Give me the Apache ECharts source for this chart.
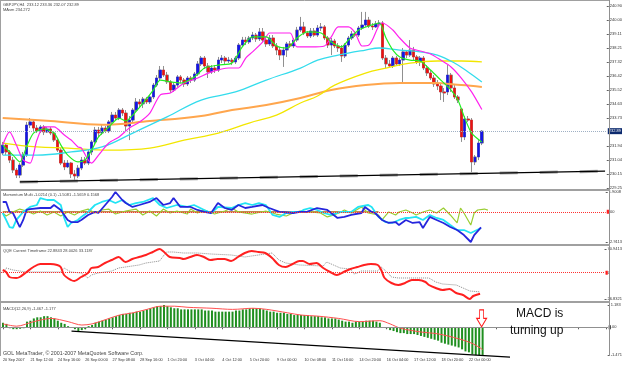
<!DOCTYPE html>
<html><head><meta charset="utf-8">
<script src="https://cdn.jsdelivr.net/npm/echarts@6/dist/echarts.min.js"></script>
<style>html,body{margin:0;padding:0;background:#fff}#c{width:625px;height:365px}</style>
</head><body><div id="c"></div>
<script>
// ---------- DATA ----------
const timeLabels = ["20 Sep 2007","21 Sep 12:00","24 Sep 16:00","26 Sep 00:00","27 Sep 08:00","28 Sep 16:00","1 Oct 20:00","3 Oct 04:00","4 Oct 12:00","5 Oct 20:00","9 Oct 00:00","10 Oct 08:00","11 Oct 16:00","14 Oct 20:00","16 Oct 04:00","17 Oct 12:00","18 Oct 20:00","22 Oct 00:00"];
const slotCount = 177; // visible bar slots incl. right margin

const opens = [231.49,232.00,231.56,231.04,230.40,230.08,230.72,231.36,233.28,233.48,
233.09,232.90,233.16,232.84,233.03,232.77,232.32,231.68,230.85,230.60,
230.85,230.15,230.02,230.53,231.04,230.85,231.56,232.20,232.96,232.77,
233.09,232.90,233.48,233.92,233.73,234.24,234.05,233.22,233.60,234.24,
234.76,234.63,234.95,234.76,235.08,235.84,236.29,236.80,236.48,236.04,
235.52,235.84,236.36,236.16,235.91,236.29,236.16,236.55,237.19,237.57,
237.06,236.68,236.93,236.80,237.44,237.57,237.38,237.44,237.32,237.57,
238.40,238.72,238.60,238.85,239.04,238.79,239.24,238.72,238.47,238.85,
238.34,238.08,237.76,238.08,238.47,238.34,238.72,239.36,239.56,239.17,
238.98,239.30,239.04,239.49,239.56,238.85,238.40,238.66,238.34,238.21,
237.70,238.40,238.85,239.11,239.04,239.49,239.68,240.00,239.62,239.56,
239.75,239.81,237.57,237.19,237.06,237.57,237.19,237.44,237.96,237.76,
238.08,237.64,237.32,237.57,236.93,236.61,236.29,235.91,235.78,235.40,
235.40,236.48,235.65,235.08,234.31,232.52,233.67,233.60,230.92,231.24,
232.13];
const closes = [232.00,231.56,231.04,230.40,230.08,230.72,231.36,233.28,233.48,233.09,
232.90,233.16,232.84,233.03,232.77,232.32,231.68,230.85,230.60,230.85,
230.15,230.02,230.53,231.04,230.85,231.56,232.20,232.96,232.77,233.09,
232.90,233.48,233.92,233.73,234.24,234.05,233.22,233.60,234.24,234.76,
234.63,234.95,234.76,235.08,235.84,236.29,236.80,236.48,236.04,235.52,
235.84,236.36,236.16,235.91,236.29,236.16,236.55,237.19,237.57,237.06,
236.68,236.93,236.80,237.44,237.57,237.38,237.44,237.32,237.57,238.40,
238.72,238.60,238.85,239.04,238.79,239.24,238.72,238.47,238.85,238.34,
238.08,237.76,238.08,238.47,238.34,238.72,239.36,239.56,239.17,238.98,
239.30,239.04,239.49,239.56,238.85,238.40,238.66,238.34,238.21,237.70,
238.40,238.85,239.11,239.04,239.49,239.68,240.00,239.62,239.56,239.75,
239.81,237.57,237.19,237.06,237.57,237.19,237.44,237.96,237.76,238.08,
237.64,237.32,237.57,236.93,236.61,236.29,235.91,235.78,235.40,235.33,
236.48,235.65,235.08,234.88,232.52,233.67,233.60,230.92,231.24,232.13,
232.89];
const highs = [232.20,232.13,231.68,231.24,230.53,230.85,231.56,233.48,233.73,233.60,
233.28,233.28,233.28,233.16,233.16,232.90,232.45,231.81,231.04,231.04,
230.92,230.40,230.72,231.24,231.24,231.68,232.32,233.16,233.16,233.28,
233.22,233.60,234.12,234.12,234.37,234.37,234.24,233.86,234.37,235.01,
234.95,235.08,235.08,235.20,235.97,236.48,237.06,237.06,236.68,236.16,
235.97,236.48,236.48,236.29,236.42,236.42,236.68,237.38,237.70,237.70,
237.25,237.12,237.12,237.64,237.76,237.70,237.64,237.57,237.70,238.53,
238.92,238.92,238.98,239.24,239.17,239.49,239.49,238.92,239.04,239.04,
238.53,238.28,238.28,238.60,238.66,238.85,239.56,240.20,239.88,239.30,
239.49,239.49,239.68,239.81,239.68,238.98,238.85,238.79,238.53,238.40,
238.53,238.98,239.30,239.30,239.62,240.52,240.52,240.20,239.81,239.94,
240.00,239.94,237.76,237.44,237.70,237.70,237.57,238.21,238.08,238.72,
238.28,237.76,237.70,237.70,237.12,236.80,236.48,236.16,235.97,235.65,
237.12,236.61,235.84,235.20,234.37,233.86,233.86,233.73,231.36,232.32,
232.96];
const lows = [231.36,231.36,230.85,230.21,229.89,229.89,230.60,231.24,233.09,232.90,
232.77,232.77,232.64,232.77,232.64,232.20,231.56,230.72,230.40,230.53,
229.89,229.70,229.89,230.40,230.72,230.72,231.36,232.00,232.52,232.64,
232.77,232.77,233.28,233.60,233.60,233.86,232.84,232.32,233.48,234.12,
234.37,234.37,234.63,234.63,234.95,235.72,236.16,236.36,235.91,235.33,
235.40,235.72,235.97,235.72,235.78,235.97,236.04,236.42,237.06,236.87,
236.29,236.55,236.61,236.68,237.25,237.19,237.25,237.12,237.19,237.44,
238.28,238.40,238.47,238.72,238.60,238.66,238.60,238.28,238.34,238.21,
237.76,237.44,237.00,237.64,238.21,238.21,238.60,239.24,239.04,238.85,
238.85,238.92,238.92,239.30,238.72,238.21,237.76,238.21,237.96,237.32,
237.57,238.28,238.72,238.92,238.92,239.36,239.56,239.49,239.36,239.49,
239.62,237.44,236.93,237.00,236.93,237.06,237.06,235.97,237.57,237.64,
237.44,237.19,237.06,236.80,236.42,236.16,235.72,235.52,234.88,234.76,
235.20,235.40,234.95,234.69,232.20,232.32,233.48,230.21,230.72,231.04,
232.00];

// moving averages: [bar index, price]
const maGreen = [[0,232.00],[3,231.36],[5,230.92],[7,231.90],[9,232.77],[12,233.03],[15,232.77],[17,232.00],[19,231.36],[22,230.92],[24,231.04],[26,231.68],[28,232.52],[31,233.16],[34,233.73],[36,233.54],[38,233.92],[41,234.69],[44,235.52],[46,236.16],[49,236.04],[52,235.97],[56,236.36],[59,236.93],[63,237.12],[67,237.25],[70,238.28],[73,238.92],[77,238.92],[80,238.34],[83,238.21],[86,238.85],[89,239.24],[93,239.17],[96,238.60],[99,238.28],[101,238.72],[104,239.36],[107,239.62],[110,239.81],[112,238.85],[114,238.08],[116,237.64],[119,237.44],[122,237.38],[125,236.80],[128,236.16],[131,235.52],[133,234.88],[135,233.73],[137,232.77],[140,232.20]];
const maMagenta = [[0,232.00],[2,232.84],[4,232.00],[6,231.04],[8,230.85],[10,232.32],[12,233.16],[15,233.16],[18,232.64],[20,232.32],[22,231.88],[23,231.81],[25,231.04],[26,230.85],[28,231.36],[31,232.13],[34,232.52],[37,233.09],[40,233.48],[43,234.05],[46,235.20],[49,235.33],[51,235.65],[53,235.97],[57,236.29],[61,236.68],[66,236.93],[69,236.93],[71,237.57],[73,237.96],[76,238.60],[78,239.17],[81,239.17],[84,239.17],[86,238.28],[90,238.28],[94,238.34],[96,238.92],[98,239.56],[101,239.56],[103,239.17],[105,238.34],[107,238.40],[108,238.72],[110,239.68],[111,239.81],[114,239.36],[116,238.85],[119,238.21],[122,238.02],[125,237.83],[128,237.44],[131,237.00],[134,236.29],[137,235.40],[140,234.272]];
const maCyan = [[0,231.36],[10,231.36],[20,231.56],[29,231.88],[38,232.77],[48,233.80],[58,234.88],[68,235.40],[77,236.16],[87,236.93],[92,237.44],[98,237.76],[106,238.08],[110,238.21],[116,238.08],[122,237.96],[127,237.76],[132,237.25],[136,236.68],[140,236.04]];
const maYellow = [[0,232.13],[10,231.88],[19,231.81],[31,231.68],[43,231.81],[53,232.32],[63,232.77],[72,233.41],[80,233.92],[87,234.69],[92,235.14],[97,235.84],[106,236.61],[112,236.93],[119,237.25],[127,237.38],[134,237.38],[140,237.32]];
const maOrange = [[0,233.73],[14,233.54],[29,233.30],[43,233.54],[58,233.86],[67,234.24],[77,234.56],[87,235.01],[96,235.52],[106,235.84],[116,235.97],[126,235.97],[134,235.84],[140,235.72]];
const priceTrend = [[5,229.64],[176,230.33]];
const mainTicks = [240.90,240.00,239.11,238.21,237.32,236.42,235.52,234.63,233.73,231.94,231.04,230.15,229.25];

// Momentum Multi
const momBlue = [[0,0.94],[1,0.94],[2,-0.02],[3,-0.12],[5,-1.47],[6,-0.79],[7,0.17],[8,0.26],[11,0.36],[14,0.36],[15,0.65],[17,0.17],[19,-0.79],[20,-0.99],[22,-0.99],[23,-0.79],[25,-0.31],[27,-0.02],[28,-0.12],[30,0.65],[32,1.42],[33,1.9008],[35,1.13],[36,0.84],[38,0.46],[40,0.65],[43,0.94],[45,1.32],[47,0.65],[49,0.84],[50,1.32],[52,0.46],[55,0.46],[57,0.17],[59,-0.02],[61,-0.12],[63,0.84],[65,0.36],[67,0.17],[69,0.65],[71,0.36],[73,0.46],[76,0.65],[78,0.36],[81,-0.02],[85,-0.12],[87,-0.02],[89,-0.02],[92,0.36],[95,0.17],[98,-0.60],[100,-0.50],[102,-0.31],[105,-0.12],[106,0.46],[108,-0.02],[109,-0.12],[111,-0.79],[113,-1.08],[115,-0.99],[116,-1.28],[118,-0.79],[120,-1.08],[122,-0.99],[123,-1.56],[125,-0.50],[127,-0.79],[129,-1.08],[131,-1.47],[133,-1.76],[135,-2.24],[137,-2.9113],[138,-2.24],[140,-1.5081]];
const momCyan = [[0,-0.12],[1,-0.79],[2,-1.47],[3,-1.56],[4,-0.79],[6,-0.02],[8,0.46],[10,0.65],[11,1.32],[13,1.13],[15,1.13],[17,0.65],[18,-0.60],[19,-1.47],[20,-1.08],[22,-0.79],[23,-0.50],[25,-0.02],[27,0.65],[29,0.94],[31,1.13],[33,0.84],[35,1.13],[37,0.65],[39,0.84],[41,0.94],[44,1.32],[46,0.65],[48,0.36],[51,0.65],[54,0.46],[56,0.65],[59,0.17],[61,-0.12],[63,0.46],[67,0.36],[69,0.65],[71,0.84],[73,0.65],[75,0.84],[77,0.65],[79,-0.31],[81,-0.50],[83,-0.12],[85,-0.02],[87,-0.02],[88,0.17],[90,0.36],[92,0.17],[94,-0.12],[96,-0.31],[99,-0.02],[102,-0.02],[104,0.46],[107,0.65],[108,0.46],[110,-0.50],[112,-0.99],[114,-1.08],[116,-0.79],[118,-0.60],[119,-0.60],[121,-0.50],[123,-0.79],[125,-0.31],[127,-0.60],[129,-0.79],[131,-1.28],[133,-1.76],[135,-1.76],[137,-2.05],[140,-1.5659]];
const momGreen = [[0,-0.12],[1,-0.41],[3,-0.02],[5,0.26],[7,0.07],[9,-0.22],[11,0.07],[13,-0.31],[15,-0.02],[17,-0.41],[19,-0.02],[21,-0.31],[23,0.07],[25,0.26],[27,-0.12],[29,0.17],[31,0.26],[33,-0.22],[36,0.07],[39,0.26],[41,-0.31],[43,0.07],[45,-0.41],[47,0.26],[49,-0.12],[51,0.07],[54,-0.22],[55,0.26],[57,-0.12],[59,0.17],[62,-0.22],[65,0.07],[67,0.36],[69,-0.02],[73,-0.22],[77,0.07],[80,-0.22],[83,-0.41],[85,-0.12],[87,0.07],[90,-0.02],[93,-0.12],[95,-0.50],[97,-0.31],[99,-0.02],[100,0.17],[102,-0.12],[105,0.46],[107,-0.12],[110,-0.31],[111,-0.79],[113,-0.02],[115,-0.31],[116,-0.02],[118,0.17],[120,-0.12],[121,-0.31],[123,-0.02],[125,0.17],[127,-0.12],[129,0.36],[131,-0.31],[133,-1.08],[134,0.36],[135,-0.12],[137,-1.28],[138,-0.12],[139,0.17],[141,0.26],[142,0.1568]];
const momBase = [[0,0],[110,0]];
const momTicks = [1.9008,-2.9113];
const momLevel = 0;

// QQE
const qqeRsi = [[0,52.42],[1,50.65],[2,46.24],[4,45.36],[5,46.24],[7,50.65],[9,55.06],[11,57.71],[14,57.71],[16,56.83],[17,55.06],[18,48.00],[20,43.59],[21,42.71],[23,46.24],[25,49.77],[26,54.18],[28,55.06],[30,58.59],[32,61.24],[34,63.88],[36,59.47],[38,62.12],[40,63.88],[42,65.65],[44,68.29],[46,70.9413],[47,69.18],[49,63.88],[52,63.00],[53,62.12],[55,63.88],[57,65.65],[59,63.88],[61,61.24],[63,62.12],[65,62.12],[67,60.36],[69,63.88],[71,67.41],[73,69.18],[75,68.29],[77,67.41],[79,63.00],[81,56.83],[83,55.06],[85,57.71],[87,60.36],[88,60.36],[90,57.71],[92,58.59],[94,54.18],[96,50.65],[98,48.00],[100,50.65],[102,53.30],[104,55.06],[106,56.83],[108,57.71],[110,56.83],[111,52.42],[112,45.36],[114,40.95],[116,39.18],[118,40.95],[120,43.59],[122,43.59],[124,41.83],[125,39.18],[127,36.54],[129,34.77],[131,35.66],[133,32.13],[135,30.36],[137,26.8321],[138,29.48],[140,31.5]];
const qqeTrail = [[0,49.77],[1,54.18],[3,52.42],[7,50.65],[17,50.65],[18,54.18],[20,50.65],[23,49.77],[25,45.36],[26,48.00],[28,49.77],[30,50.65],[32,51.53],[34,54.18],[36,55.06],[38,55.95],[40,56.83],[42,58.59],[44,59.47],[46,60.36],[48,68.29],[50,68.29],[53,67.41],[57,67.41],[61,66.53],[67,65.65],[71,63.88],[73,64.77],[75,65.65],[77,66.53],[79,67.41],[81,61.24],[83,58.59],[85,57.71],[87,56.83],[94,55.95],[95,59.47],[97,56.83],[99,54.18],[102,53.30],[103,48.89],[104,49.77],[105,51.53],[110,51.53],[111,55.06],[113,49.77],[114,46.24],[116,45.36],[125,45.36],[127,41.83],[129,40.07],[133,39.18],[135,36.54],[137,33.89],[140,33.12]];
const qqeTicks = [70.9413,26.8321];
const qqeLevel = 50;

// MACD
const macdHist = [0.24,0.18,-0.05,-0.10,-0.10,-0.08,-0.05,0.30,0.35,0.47,
0.53,0.53,0.59,0.59,0.53,0.47,0.35,0.24,0.18,0.06,
0.01,-0.10,-0.20,-0.15,-0.10,0.06,0.12,0.24,0.30,0.35,
0.41,0.47,0.53,0.59,0.65,0.71,0.71,0.77,0.77,0.83,
0.83,0.89,0.95,1.01,1.06,1.12,1.12,1.183,1.12,1.06,
1.01,1.01,0.95,0.95,0.95,0.95,0.95,0.95,0.95,0.89,
0.89,0.89,0.83,0.83,0.83,0.83,0.83,0.83,0.89,0.89,
0.95,0.95,1.01,1.01,1.01,1.01,0.95,0.89,0.83,0.83,
0.77,0.77,0.77,0.71,0.71,0.65,0.65,0.65,0.65,0.65,
0.59,0.59,0.59,0.53,0.53,0.47,0.47,0.47,0.41,0.35,
0.30,0.30,0.24,0.30,0.30,0.30,0.35,0.35,0.35,0.30,
0.24,0.00,-0.05,-0.15,-0.20,-0.26,-0.31,-0.31,-0.36,-0.36,
-0.36,-0.41,-0.46,-0.51,-0.56,-0.61,-0.66,-0.71,-0.82,-0.87,
-0.92,-0.97,-1.02,-1.07,-1.17,-1.28,-1.33,-1.43,-1.471,-1.47,
-1.467];
const macdSignal = [[0,0.18],[4,0.06],[9,0.30],[14,0.47],[19,0.30],[23,0.12],[26,0.18],[30,0.41],[34,0.65],[38,0.77],[42,0.95],[46,1.12],[50,1.12],[54,1.06],[61,1.01],[67,0.95],[73,1.01],[77,0.95],[83,0.77],[87,0.65],[92,0.59],[98,0.47],[104,0.30],[110,0.35],[113,0.18],[116,-0.05],[122,-0.25],[127,-0.35],[133,-0.61],[137,-0.86],[140,-1.177]];
const macdTrend = [[20,-0.20],[148,-1.58]];
const macdTicks = [1.183,-1.471];
const macdLevel = 0;

// ---------- CHART ----------
const FONT = 'Liberation Sans, Arial, sans-serif';
const AX = 4.0;   // axis text size
const TT = 4.0;   // pane title size
const cats = Array.from({length: slotCount}, (_, i) => String(i));
const candleFull = opens.map((o, i) => [o, closes[i], lows[i], highs[i]]);
const candleBody = opens.map((o, i) => [o, closes[i], Math.min(o, closes[i]), Math.max(o, closes[i])]);
const lastClose = closes[closes.length - 1];

const grids = [
  {left: 1, right: 16, top: 3, height: 186},
  {left: 1, right: 16, top: 192, height: 50},
  {left: 1, right: 16, top: 249, height: 50},
  {left: 1, right: 16, top: 305, height: 50}
];
const xAxes = grids.map((g, k) => ({
  type: 'category', gridIndex: k, data: cats, boundaryGap: true,
  show: k === 3,
  axisLine: {show: k === 3, lineStyle: {color: '#909090'}},
  axisTick: {show: k === 3, interval: 7, alignWithLabel: true, length: 2, lineStyle: {color: '#606060'}},
  axisLabel: {show: k === 3, interval: 7, align: 'left', margin: 3, fontSize: 3.8, color: '#333', fontFamily: FONT,
    formatter: (v, idx) => timeLabels[Math.round(idx / 8)] || ''},
  splitLine: {show: false}
}));
function yAx(k, min, max, ticks, dec) {
  return {
    type: 'value', gridIndex: k, position: 'right', min: min, max: max, scale: true,
    splitLine: {show: false}, axisLine: {show: false},
    axisTick: {show: true, customValues: ticks, length: 2, lineStyle: {color: '#606060'}},
    axisLabel: {customValues: ticks, formatter: v => v.toFixed(dec), fontSize: AX, color: '#333', margin: 3, fontFamily: FONT}
  };
}
const yAxes = [
  yAx(0, 229.19, 241.09, mainTicks, 2),
  yAx(1, -2.9113, 1.9008, momTicks, 4),
  yAx(2, 26.8321, 70.9413, qqeTicks, 4),
  yAx(3, -1.471, 1.183, macdTicks, 3)
];

function lineS(k, data, color, width, extra) {
  return Object.assign({
    type: 'line', xAxisIndex: k, yAxisIndex: k, data: data, showSymbol: false, symbol: 'none',
    animation: false, silent: true, lineStyle: {color: color, width: width}, z: 3
  }, extra || {});
}
function levelLine(value, color, type, text, boxColor) {
  return {
    silent: true, symbol: 'none', animation: false,
    lineStyle: {color: color, type: type, width: 1},
    label: {show: true, position: 'end', distance: 1, formatter: text, fontSize: AX, fontFamily: FONT,
      rich: {b: {backgroundColor: boxColor, color: boxColor, fontSize: AX, padding: [0, 0]},
             t: {color: '#333', fontSize: AX}}},
    data: [{yAxis: value}]
  };
}

const series = [
  {type: 'candlestick', xAxisIndex: 0, yAxisIndex: 0, data: candleFull, barWidth: 3, animation: false, silent: true, z: 1,
   itemStyle: {color: '#1414e6', color0: '#ee1111', borderColor: '#909090', borderColor0: '#909090', borderWidth: 1}},
  {type: 'candlestick', xAxisIndex: 0, yAxisIndex: 0, data: candleBody, barWidth: 2.4, animation: false, silent: true, z: 2,
   itemStyle: {color: '#1414e6', color0: '#ee1111', borderColor: '#1414e6', borderColor0: '#ee1111', borderWidth: 0.4},
   markLine: {silent: true, symbol: 'none', animation: false,
     lineStyle: {color: '#9fb0c4', type: 'dotted', width: 1},
     label: {show: true, position: 'end', distance: 1, formatter: lastClose.toFixed(2), fontSize: AX, fontFamily: FONT,
       color: '#fff', backgroundColor: '#0c2a6e', padding: [1, 1]},
     data: [{yAxis: lastClose}]}},
  lineS(0, maOrange, '#ffa64d', 2, {smooth: 0.4}),
  lineS(0, maYellow, '#f2e600', 1.3, {smooth: 0.4}),
  lineS(0, maCyan, '#33dcec', 1.3, {smooth: 0.4}),
  lineS(0, maMagenta, '#ff22ee', 1.2, {smooth: 0.25}),
  lineS(0, maGreen, '#22ee22', 1.2, {smooth: 0.25}),
  lineS(0, priceTrend, '#a8a8a8', 3, {lineStyle: {color: '#a8a8a8', width: 3, type: [18, 22]}}),
  lineS(0, priceTrend, '#000000', 1.2),
  lineS(1, momBase, '#c08a4a', 1.5, {markLine: levelLine(momLevel, '#ff3030', 'dotted', '{b|0}{t|.00}', '#ff2020')}),
  lineS(1, momGreen, '#9acd32', 1.2),
  lineS(1, momCyan, '#22e4f4', 1.8),
  lineS(1, momBlue, '#2626dd', 1.8),
  lineS(2, qqeTrail, '#909090', 1, {lineStyle: {color: '#8c8c8c', width: 1, type: 'dotted'},
    markLine: levelLine(qqeLevel, '#ff3030', 'dotted', '{b|5}{t|0}', '#ff2020')}),
  lineS(2, qqeRsi, '#ff2020', 2, {smooth: 0.3}),
  {type: 'bar', xAxisIndex: 3, yAxisIndex: 3, data: macdHist, barWidth: 2, animation: false, silent: true,
   itemStyle: {color: '#1f8f1f'},
   markLine: levelLine(macdLevel, '#909090', 'solid', '{b|0}{t|.00}', '#404040'),
   markPoint: {silent: true, animation: false,
     data: [{coord: [String(macdHist.length - 1), 0], symbol: 'path://M3,0 L7,0 L7,9 L10,9 L5,18 L0,9 L3,9 Z',
       symbolSize: [10, 17], symbolOffset: [-1, -9],
       itemStyle: {color: '#ffffff', borderColor: '#ff1a1a', borderWidth: 1}, label: {show: false}}]}},
  lineS(3, macdSignal, '#ff5050', 1, {smooth: 0.3}),
  lineS(3, macdTrend, '#000000', 1.2, {clip: false})
];

const grey = '#a0a0a0';
const graphic = [
  {type: 'line', shape: {x1: 0.5, y1: 0, x2: 0.5, y2: 356}, style: {stroke: grey, lineWidth: 1}, z: 50},
  {type: 'line', shape: {x1: 0, y1: 0.5, x2: 609, y2: 0.5}, style: {stroke: grey, lineWidth: 1}, z: 50},
  {type: 'line', shape: {x1: 609.5, y1: 0, x2: 609.5, y2: 356}, style: {stroke: '#909090', lineWidth: 1}, z: 50},
  {type: 'rect', shape: {x: 0, y: 189, width: 610, height: 2}, style: {fill: grey}, z: 50},
  {type: 'rect', shape: {x: 0, y: 244, width: 610, height: 2}, style: {fill: grey}, z: 50},
  {type: 'rect', shape: {x: 0, y: 301, width: 610, height: 2}, style: {fill: grey}, z: 50},
  {type: 'text', left: 3, top: 3, style: {text: 'GBPJPY,H4  233.12 233.36 232.07 232.89', fontSize: TT, fill: '#444', fontFamily: FONT}, z: 60},
  {type: 'text', left: 3, top: 7.5, style: {text: 'MAsm 234.272', fontSize: TT, fill: '#444', fontFamily: FONT}, z: 60},
  {type: 'text', left: 3, top: 193, style: {text: 'Momentum Multi -1.0214 (0.1) -1.5081 -1.5659 0.1568', fontSize: TT, fill: '#444', fontFamily: FONT}, z: 60},
  {type: 'text', left: 3, top: 248.5, style: {text: 'QQE Current Timeframe 22.8843 28.0026 33.1187', fontSize: TT, fill: '#444', fontFamily: FONT}, z: 60},
  {type: 'text', left: 3, top: 307, style: {text: 'MACD(12,26,9) -1.467 -1.177', fontSize: TT, fill: '#444', fontFamily: FONT}, z: 60},
  {type: 'text', left: 3, top: 351, style: {text: 'GOL MetaTrader, \u00a9 2001-2007 MetaQuotes Software Corp.', fontSize: 5.3, fill: '#444', fontFamily: FONT}, z: 60},
  {type: 'text', left: 516, top: 308, style: {text: 'MACD is', fontSize: 12, fill: '#111', fontFamily: FONT}, z: 60},
  {type: 'text', left: 510, top: 325, style: {text: 'turning up', fontSize: 12, fill: '#111', fontFamily: FONT}, z: 60}
];

const chart = echarts.init(document.getElementById('c'), null, {renderer: 'canvas'});
chart.setOption({
  backgroundColor: '#ffffff',
  animation: false,
  grid: grids,
  xAxis: xAxes,
  yAxis: yAxes,
  series: series,
  graphic: graphic
});
</script>
</body></html>
